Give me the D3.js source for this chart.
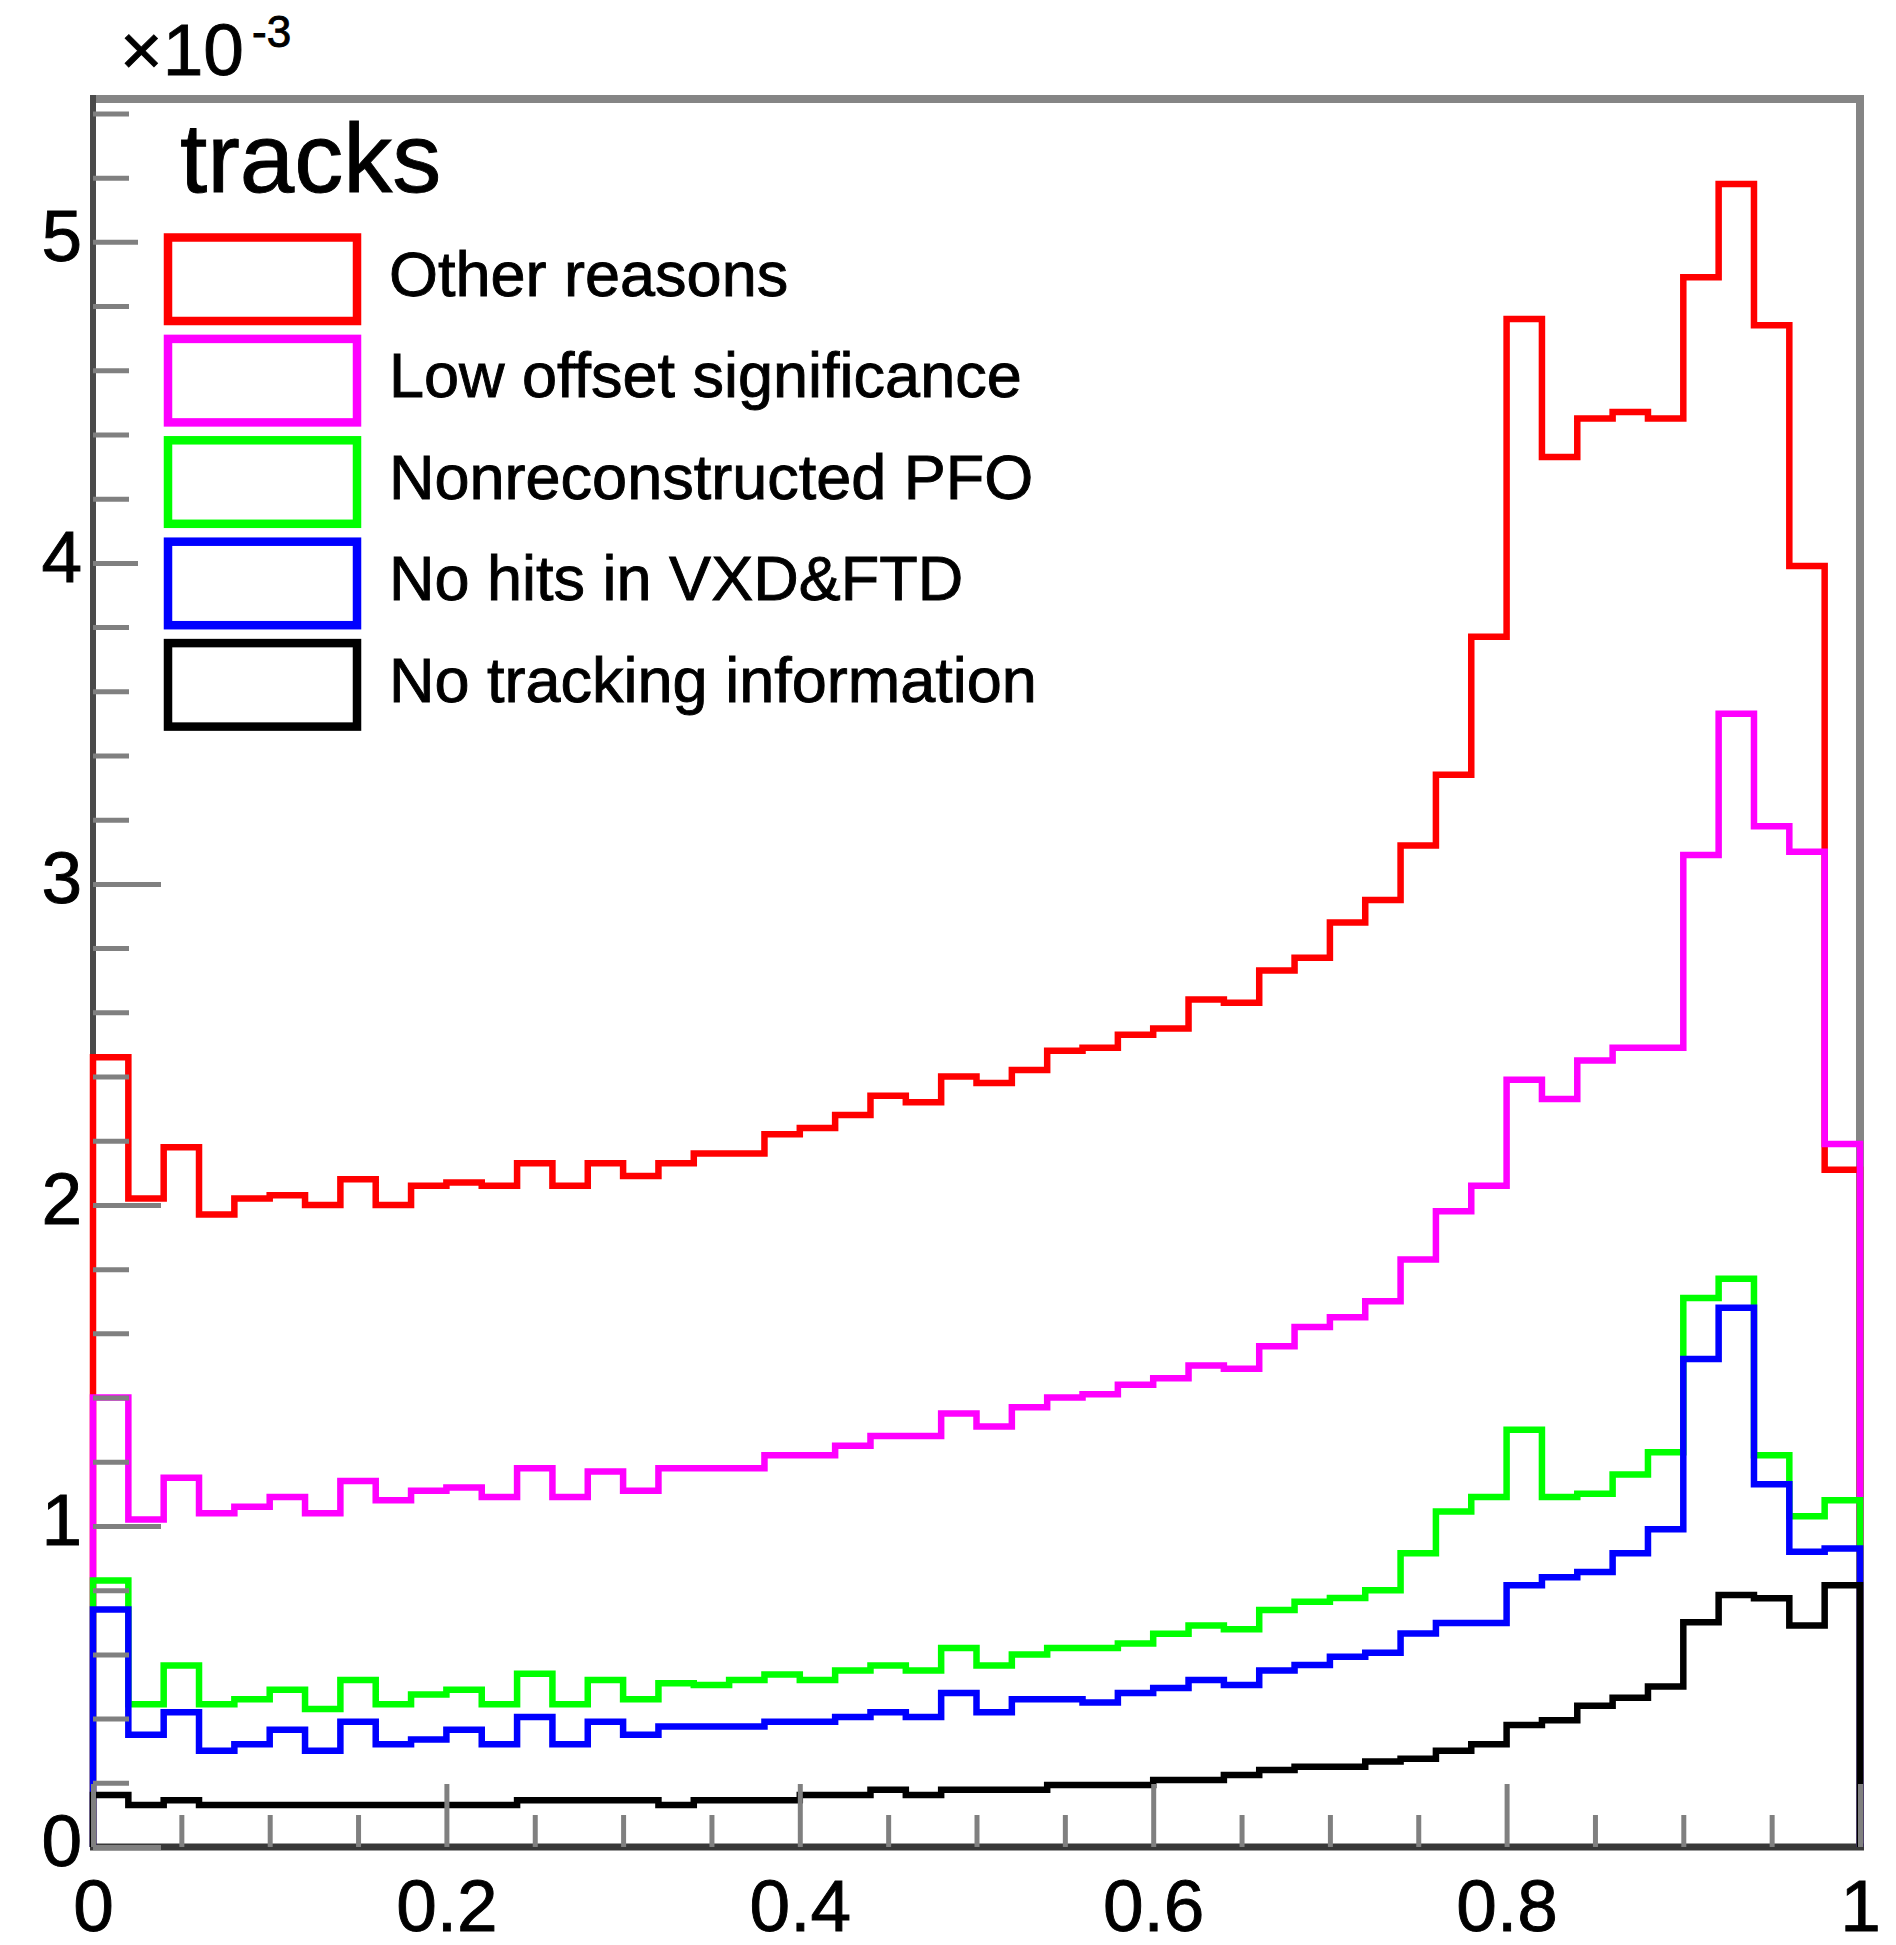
<!DOCTYPE html>
<html>
<head>
<meta charset="utf-8">
<script src="https://cdnjs.cloudflare.com/ajax/libs/d3/7.8.5/d3.min.js"></script>
<style>
  html, body { margin: 0; padding: 0; background: #fff; }
  svg { display: block; }
  text { font-family: "Liberation Sans", Arial, sans-serif; fill: #000; stroke: #000; stroke-width: 0.9px; }
</style>
</head>
<body>
<script>
(function() {

  'use strict';

  // 50 bins of width 0.02, values in units of 1e-3
  var binWidth = 0.02;

  var otherReasons = [
    2.46, 2.02, 2.18, 1.97, 2.02, 2.03, 2.00, 2.08, 2.00, 2.06,
    2.07, 2.06, 2.13, 2.06, 2.13, 2.09, 2.13, 2.16, 2.16, 2.22,
    2.24, 2.28, 2.34, 2.32, 2.40, 2.38, 2.42, 2.48, 2.49, 2.53,
    2.55, 2.64, 2.63, 2.73, 2.77, 2.88, 2.95, 3.12, 3.34, 3.77,
    4.76, 4.33, 4.45, 4.47, 4.45, 4.89, 5.18, 4.74, 3.99, 2.11
  ];

  var lowOffset = [
    1.40, 1.02, 1.15, 1.04, 1.06, 1.09, 1.04, 1.14, 1.08, 1.11,
    1.12, 1.09, 1.18, 1.09, 1.17, 1.11, 1.18, 1.18, 1.18, 1.22,
    1.22, 1.25, 1.28, 1.28, 1.35, 1.31, 1.37, 1.40, 1.41, 1.44,
    1.46, 1.50, 1.49, 1.56, 1.62, 1.65, 1.70, 1.83, 1.98, 2.06,
    2.39, 2.33, 2.45, 2.49, 2.49, 3.09, 3.53, 3.18, 3.10, 2.19
  ];

  var nonreconstructed = [
    0.83, 0.445, 0.565, 0.445, 0.46, 0.49, 0.43, 0.52, 0.445, 0.475,
    0.49, 0.445, 0.54, 0.445, 0.52, 0.46, 0.51, 0.505, 0.52, 0.537,
    0.52, 0.55, 0.565, 0.55, 0.62, 0.565, 0.60, 0.62, 0.62, 0.634,
    0.664, 0.69, 0.678, 0.738, 0.764, 0.776, 0.80, 0.915, 1.045, 1.09,
    1.30, 1.09, 1.10, 1.16, 1.23, 1.71, 1.77, 1.22, 1.03, 1.08
  ];

  var noHits = [
    0.74, 0.35, 0.42, 0.30, 0.32, 0.365, 0.30, 0.39, 0.32, 0.335,
    0.365, 0.32, 0.405, 0.32, 0.39, 0.35, 0.375, 0.375, 0.375, 0.39,
    0.39, 0.405, 0.42, 0.405, 0.48, 0.42, 0.46, 0.46, 0.45, 0.48,
    0.495, 0.52, 0.505, 0.55, 0.567, 0.593, 0.605, 0.665, 0.698, 0.698,
    0.815, 0.84, 0.857, 0.915, 0.99, 1.52, 1.68, 1.13, 0.92, 0.93
  ];

  var noTracking = [
    0.162, 0.131, 0.146, 0.131, 0.131, 0.131, 0.131, 0.131, 0.131, 0.131,
    0.131, 0.131, 0.146, 0.146, 0.146, 0.146, 0.131, 0.146, 0.146, 0.146,
    0.162, 0.162, 0.178, 0.162, 0.178, 0.178, 0.178, 0.193, 0.193, 0.193,
    0.209, 0.209, 0.224, 0.240, 0.250, 0.250, 0.266, 0.275, 0.300, 0.320,
    0.380, 0.395, 0.440, 0.465, 0.500, 0.700, 0.785, 0.775, 0.690, 0.815
  ];

  var seriesNames = [
    'Other reasons',
    'Low offset significance',
    'Nonreconstructed PFO',
    'No hits in VXD&FTD',
    'No tracking information'
  ];
  var seriesValues = [otherReasons, lowOffset, nonreconstructed, noHits, noTracking];
  var seriesColors = ['#ff0000', '#ff00ff', '#00ff00', '#0000ff', '#000000'];

  var xTicks = [0, 0.2, 0.4, 0.6, 0.8, 1];
  var xTickLabels = ['0', '0.2', '0.4', '0.6', '0.8', '1'];
  var yTicks = [0, 1, 2, 3, 4, 5];
  var legendTitle = 'tracks';

  var WIDTH = 1896;
  var HEIGHT = 1945;
  var LEFT = 93, RIGHT = 1860, TOP = 99, BOTTOM = 1847;
  var Y_MAX = 5.445;

  var x = d3.scaleLinear().domain([0, 1]).range([LEFT, RIGHT]);
  var y = d3.scaleLinear().domain([0, Y_MAX]).range([BOTTOM, TOP]);

  var svg = d3.select('body').append('svg')
    .attr('width', WIDTH)
    .attr('height', HEIGHT);

  svg.append('rect')
    .attr('width', WIDTH)
    .attr('height', HEIGHT)
    .attr('fill', '#fff');

  // frame
  var frame = svg.append('g').classed('frame', true);
  frame.append('path')
    .attr('d', 'M' + LEFT + ',' + TOP + 'H' + RIGHT + 'V' + BOTTOM)
    .attr('fill', 'none')
    .attr('stroke', '#858585')
    .attr('stroke-width', 8);
  frame.append('line')
    .attr('x1', LEFT).attr('x2', LEFT)
    .attr('y1', TOP - 4).attr('y2', BOTTOM)
    .attr('stroke', '#4a4a4a')
    .attr('stroke-width', 6);
  frame.append('line')
    .attr('x1', LEFT - 3).attr('x2', RIGHT + 4)
    .attr('y1', BOTTOM).attr('y2', BOTTOM)
    .attr('stroke', '#383838')
    .attr('stroke-width', 7);

  // histograms, drawn as step outlines
  var line = d3.line()
    .x(function(d) { return x(d[0]); })
    .y(function(d) { return y(d[1]); })
    .curve(d3.curveStepAfter);

  var outline = function(values) {
    var points = [[0, 0]];
    values.forEach(function(value, index) {
      points.push([index * binWidth, value]);
    });
    points.push([values.length * binWidth, values[values.length - 1]]);
    points.push([values.length * binWidth, 0]);
    return points;
  };

  svg.append('g').classed('histograms', true)
    .selectAll('path')
    .data(seriesValues)
    .enter()
    .append('path')
    .attr('d', function(values) { return line(outline(values)); })
    .attr('fill', 'none')
    .attr('stroke', function(values, index) { return seriesColors[index]; })
    .attr('stroke-width', 6.5)
    .attr('stroke-linejoin', 'miter');

  // axes: ticks point inward, labels outside
  var styleAxis = function(g) {
    g.select('.domain').remove();
    g.selectAll('.tick line')
      .attr('stroke', '#808080')
      .attr('stroke-width', 5);
    g.selectAll('.tick text')
      .attr('font-size', 73)
      .attr('font-family', '"Liberation Sans", Arial, sans-serif')
      .attr('fill', '#000');
  };

  var minorX = d3.range(0, 21).map(function(i) { return i * 0.05; })
    .filter(function(v) { return Math.abs(v * 5 - Math.round(v * 5)) > 1e-6; });
  var minorY = d3.range(0, 28).map(function(i) { return i * 0.2; })
    .filter(function(v) { return Math.abs(v - Math.round(v)) > 1e-6 && v < Y_MAX; });

  svg.append('g')
    .attr('transform', 'translate(0,' + BOTTOM + ')')
    .call(d3.axisBottom(x).tickValues(minorX).tickSize(-32).tickFormat(''))
    .call(styleAxis);

  var xAxis = svg.append('g')
    .attr('transform', 'translate(0,' + BOTTOM + ')')
    .call(d3.axisBottom(x)
      .tickValues(xTicks)
      .tickSize(-63)
      .tickPadding(32)
      .tickFormat(function(d, i) { return xTickLabels[i]; }))
    .call(styleAxis);
  xAxis.selectAll('.tick text').attr('dy', '0.71em');

  svg.append('g')
    .attr('transform', 'translate(' + LEFT + ',0)')
    .call(d3.axisLeft(y).tickValues(minorY).tickSize(-36).tickFormat(''))
    .call(styleAxis);

  var yAxis = svg.append('g')
    .attr('transform', 'translate(' + LEFT + ',0)')
    .call(d3.axisLeft(y).tickValues(yTicks).tickSize(-68).tickPadding(11).tickFormat(d3.format('d')))
    .call(styleAxis);
  yAxis.selectAll('.tick text').attr('dy', '0.25em');

  // exponent label
  svg.append('text')
    .attr('x', 120)
    .attr('y', 75)
    .attr('font-size', 73)
    .text('\u00d710');
  svg.append('text')
    .attr('x', 252)
    .attr('y', 47)
    .attr('font-size', 44)
    .text('-3');

  // legend
  var legend = svg.append('g').classed('legend', true);
  legend.append('rect')
    .attr('x', 138)
    .attr('y', 104)
    .attr('width', 922)
    .attr('height', 640)
    .attr('fill', '#fff');

  legend.append('text')
    .attr('x', 180)
    .attr('y', 192)
    .attr('font-size', 98)
    .text(legendTitle);

  var entries = legend.selectAll('g.entry')
    .data(seriesNames)
    .enter()
    .append('g')
    .classed('entry', true)
    .attr('transform', function(name, index) {
      return 'translate(0,' + (index * 101.4) + ')';
    });

  entries.append('rect')
    .attr('x', 168)
    .attr('y', 237.5)
    .attr('width', 189)
    .attr('height', 83.5)
    .attr('fill', 'none')
    .attr('stroke', function(name, index) { return seriesColors[index]; })
    .attr('stroke-width', 8.5);

  entries.append('text')
    .attr('x', 389)
    .attr('y', 296)
    .attr('font-size', 63)
    .text(function(name) { return name; });

})();
</script>
</body>
</html>
